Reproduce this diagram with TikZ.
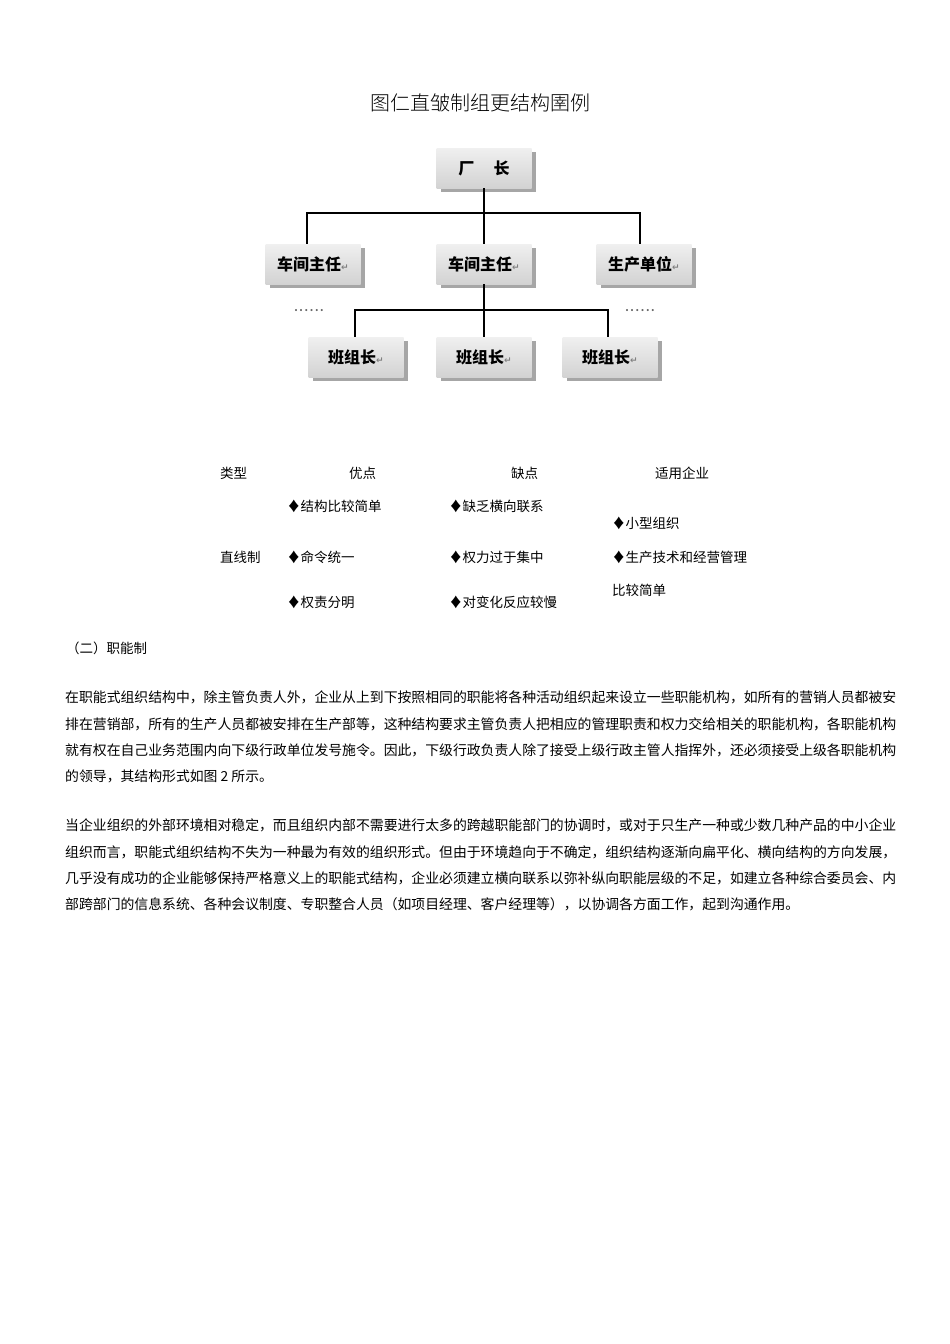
\documentclass[tikz,border=0pt]{standalone}
\usepackage{fontspec}
\setmainfont{Noto Sans CJK SC}
\newfontfamily\cjkl{Noto Sans CJK SC Light}
\newfontfamily\dejavu{DejaVu Sans}
\usetikzlibrary{shadows}
\begin{document}
\begin{tikzpicture}[x=1pt,y=-1pt,
  box/.style={draw=none,top color=gray!12,bottom color=gray!35,minimum width=#1,minimum height=40pt,
    font=\fontsize{16}{16}\selectfont\bfseries,inner sep=0pt,
    drop shadow={shadow xshift=4pt,shadow yshift=-4pt,fill=gray!70,opacity=1}},
  box/.default=95pt,
  ln/.style={line width=2.6pt,black},
  txt/.style={anchor=west,inner sep=0pt,font=\fontsize{13.5}{13.5}\selectfont},
  para/.style={anchor=west,inner sep=0pt,font=\fontsize{13.85}{13.85}\selectfont}]
\newcommand{\rt}{{\dejavu\color{gray}\fontsize{9}{9}\selectfont ↵}}
\useasboundingbox (0,0) rectangle (950,1344);
\node[font=\cjkl\fontsize{20}{20}\selectfont] (title) at (480,103) {图仁直皱制组更结构圉例};
\node[box] (fc) at (484,168) {厂\hspace{1.2em}长};
\node[box] (z1) at (313,264) {车间主任\rt};
\node[box] (z2) at (484,264) {车间主任\rt};
\node[box] (sc) at (644,264) {生产单位\rt};
\node[box] (b1) at (356,357) {班组长\rt};
\node[box] (b2) at (484,357) {班组长\rt};
\node[box] (b3) at (610,357) {班组长\rt};
\coordinate (h1) at (484,213);
\coordinate (h2) at (484,310);
\draw[ln] (fc.south) -- (h1);
\draw[ln] (z1.north -| 307,0) |- (h1) -| (sc.north -| 640,0);
\draw[ln] (h1) -- (z2.north);
\draw[ln] (z2.south) -- (h2);
\draw[ln] (b1.north -| 355,0) |- (h2) -| (b3.north -| 608,0);
\draw[ln] (h2) -- (b2.north);
\node[font=\bfseries\fontsize{10}{10}\selectfont,gray!80!black] (d1) at (309,311) {.\,.\,.\,.\,.\,.};
\node[font=\bfseries\fontsize{10}{10}\selectfont,gray!80!black] (d2) at (640,311) {.\,.\,.\,.\,.\,.};
\node[txt] (t1) at (220,473) {类型};
\node[txt] (t2) at (349,473) {优点};
\node[txt] (t3) at (511,473) {缺点};
\node[txt] (t4) at (655,473) {适用企业};
\node[txt] (a1) at (287,506) {♦结构比较简单};
\node[txt] (a2) at (287,557) {♦命令统一};
\node[txt] (a3) at (287,602) {♦权责分明};
\node[txt] (c1) at (449,506) {♦缺乏横向联系};
\node[txt] (c2) at (449,557) {♦权力过于集中};
\node[txt] (c3) at (449,602) {♦对变化反应较慢};
\node[txt] (s1) at (612,523) {♦小型组织};
\node[txt] (s2) at (612,557) {♦生产技术和经营管理};
\node[txt] (s3) at (612,590) {比较简单};
\node[txt] (lx) at (220,557) {直线制};
\node[txt] (h) at (66,648) {（二）职能制};
\node[para] (p1) at (65,697) {在职能式组织结构中，除主管负责人外，企业从上到下按照相同的职能将各种活动组织起来设立一些职能机构，如所有的营销人员都被安};
\node[para] (p2) at (65,724) {排在营销部，所有的生产人员都被安排在生产部等，这种结构要求主管负责人把相应的管理职责和权力交给相关的职能机构，各职能机构};
\node[para] (p3) at (65,750) {就有权在自己业务范围内向下级行政单位发号施令。因此，下级行政负责人除了接受上级行政主管人指挥外，还必须接受上级各职能机构};
\node[para] (p4) at (65,776) {的领导，其结构形式如图 2 所示。};
\node[para] (q1) at (65,825) {当企业组织的外部环境相对稳定，而且组织内部不需要进行太多的跨越职能部门的协调时，或对于只生产一种或少数几种产品的中小企业};
\node[para] (q2) at (65,852) {组织而言，职能式组织结构不失为一种最为有效的组织形式。但由于环境趋向于不确定，组织结构逐渐向扁平化、横向结构的方向发展，};
\node[para] (q3) at (65,878) {几乎没有成功的企业能够保持严格意义上的职能式结构，企业必须建立横向联系以弥补纵向职能层级的不足，如建立各种综合委员会、内};
\node[para] (q4) at (65,904) {部跨部门的信息系统、各种会议制度、专职整合人员（如项目经理、客户经理等），以协调各方面工作，起到沟通作用。};
\end{tikzpicture}
\end{document}
